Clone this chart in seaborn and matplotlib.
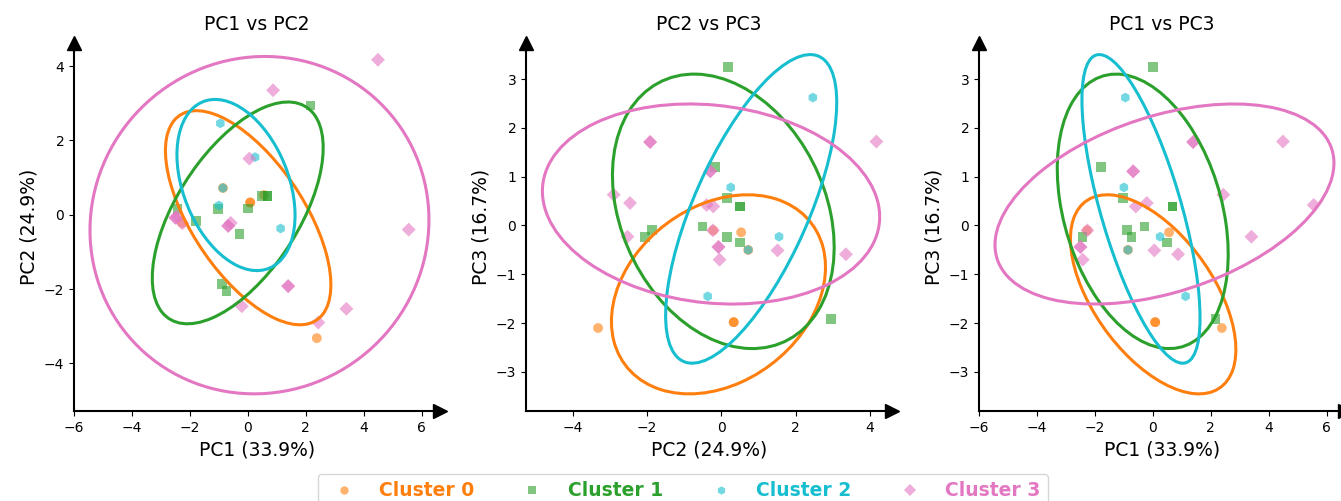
import numpy as np
import pandas as pd
import matplotlib
matplotlib.use("Agg")
import matplotlib.pyplot as plt
from matplotlib.patches import Ellipse
from matplotlib.lines import Line2D
import seaborn as sns

# ---- principal-component scores per sample ----
cluster = [0, 0, 0, 0, 0, 0,
           1, 1, 1, 1, 1, 1, 1, 1, 1, 1, 1,
           2, 2, 2, 2, 2,
           3, 3, 3, 3, 3, 3, 3, 3, 3, 3, 3, 3, 3, 3, 3, 3]
pc1 = [0.08, 0.08, 2.38, -0.86, 0.56, -2.27,
       0.00, -1.80, -1.02, 0.68, 0.68, -0.29, -0.88, -0.74, -2.43, 0.50, 2.16,
       -0.95, 0.25, -1.00, 1.13, -0.86,
       4.49, 0.87, 0.05, 5.55, -0.68, -0.68, -0.59, -2.50, -2.50, -2.26,
       1.39, 1.39, -0.21, 3.40, 2.43, -2.42]
pc2 = [0.33, 0.33, -3.32, 0.72, 0.53, -0.22,
       0.17, -0.17, 0.15, 0.51, 0.51, -0.51, -1.86, -2.05, 0.15, 0.50, 2.94,
       2.46, 1.55, 0.25, -0.37, 0.72,
       4.17, 3.35, 1.51, -0.40, -0.30, -0.30, -0.22, -0.08, -0.08, -0.23,
       -1.92, -1.92, -2.46, -2.53, -2.90, -0.05]
pc3 = [-1.98, -1.98, -2.10, -0.50, -0.14, -0.10,
       3.24, 1.19, 0.56, 0.39, 0.39, -0.02, -0.10, -0.23, -0.24, -0.35, -1.91,
       2.62, -0.23, 0.78, -1.45, -0.50,
       1.72, -0.59, -0.51, 0.42, 1.11, 1.11, 0.39, -0.44, -0.44, -0.10,
       1.71, 1.71, 0.46, -0.23, 0.63, -0.70]

# ---- fitted mixture components (mean and covariance in PC1/PC2/PC3) ----
comp_means = [
    [0.01, -0.08, -1.41],
    [-0.35, 0.05, 0.29],
    [-0.41, 0.80, 0.34],
    [0.40, -0.28, 0.44],
]
comp_covs = [
    [[1.360, -0.860, -0.539], [-0.860, 1.385, 0.267], [-0.539, 0.267, 0.694]],
    [[1.452, 0.863, -0.432], [0.863, 1.486, -0.367], [-0.432, -0.367, 1.319]],
    [[0.693, -0.277, -0.759], [-0.277, 0.885, 0.838], [-0.759, 0.838, 1.668]],
    [[5.709, 0.137, 0.818], [0.137, 3.438, -0.199], [0.818, -0.199, 0.701]],
]

explained = [33.9, 24.9, 16.7]
cluster_names = ["Cluster 0", "Cluster 1", "Cluster 2", "Cluster 3"]
colors = ["#ff7f0e", "#2ca02c", "#17becf", "#e377c2"]
markers = ["o", "s", "h", "D"]

df = pd.DataFrame({"PC1": pc1, "PC2": pc2, "PC3": pc3,
                   "Cluster": [cluster_names[c] for c in cluster]})

pairs = [(0, 1), (1, 2), (0, 2)]
pc_cols = ["PC1", "PC2", "PC3"]
limits = {
    (0, 1): ((-6.0, 6.63), (-5.28, 4.61)),
    (1, 2): ((-5.26, 4.59), (-3.80, 3.73)),
    (0, 2): ((-6.0, 6.63), (-3.80, 3.73)),
}
n_std = np.sqrt(5.991)  # 95% region for 2 degrees of freedom

fig = plt.figure(figsize=(13.41, 5.01), dpi=100)
lefts = [74 / 1341, 526 / 1341, 979 / 1341]
width = 366 / 1341
bottom = 90 / 501
height = (411 - 43.4) / 501

for left, (i, j) in zip(lefts, pairs):
    ax = fig.add_axes([left, bottom, width, height])
    sns.scatterplot(data=df, x=pc_cols[i], y=pc_cols[j], hue="Cluster",
                    style="Cluster", palette=dict(zip(cluster_names, colors)),
                    markers=dict(zip(cluster_names, markers)),
                    hue_order=cluster_names, style_order=cluster_names,
                    s=50, alpha=0.6, linewidth=0, legend=False, ax=ax)

    for k in range(4):
        mean = np.array(comp_means[k])[[i, j]]
        cov = np.array(comp_covs[k])[np.ix_([i, j], [i, j])]
        vals, vecs = np.linalg.eigh(cov)
        order = vals.argsort()[::-1]
        vals, vecs = vals[order], vecs[:, order]
        angle = np.degrees(np.arctan2(vecs[1, 0], vecs[0, 0]))
        ax.add_patch(Ellipse(mean, 2 * n_std * np.sqrt(vals[0]),
                             2 * n_std * np.sqrt(vals[1]), angle=angle,
                             fill=False, edgecolor=colors[k], linewidth=2.2))

    xl, yl = limits[(i, j)]
    ax.set_xlim(*xl)
    ax.set_ylim(*yl)
    ax.set_xlabel(f"{pc_cols[i]} ({explained[i]}%)", fontsize=13.5)
    ax.set_ylabel(f"{pc_cols[j]} ({explained[j]}%)", fontsize=13.5)
    ax.set_title(f"{pc_cols[i]} vs {pc_cols[j]}", fontsize=13.5, pad=10)
    ax.tick_params(labelsize=10)

    for side in ("top", "right"):
        ax.spines[side].set_visible(False)
    for side in ("left", "bottom"):
        ax.spines[side].set_linewidth(1.5)
    # arrow heads at the ends of the two axis lines
    ax.plot(1, 0, ">k", ms=10, transform=ax.transAxes, clip_on=False)
    ax.plot(0, 1, "^k", ms=10, transform=ax.transAxes, clip_on=False)

handles = [Line2D([], [], linestyle="none", marker=m, color=c, alpha=0.6,
                  markersize=6, markeredgewidth=0)
           for m, c in zip(markers, colors)]
leg = fig.legend(handles, cluster_names, loc="upper center",
                 bbox_to_anchor=(0.509, 0.054), ncol=4, frameon=True,
                 borderaxespad=0,
                 prop={"size": 13.5, "weight": "bold"},
                 handletextpad=0.88, columnspacing=2.1)
for txt, c in zip(leg.get_texts(), colors):
    txt.set_color(c)

fig.savefig("out.png", dpi=100)
